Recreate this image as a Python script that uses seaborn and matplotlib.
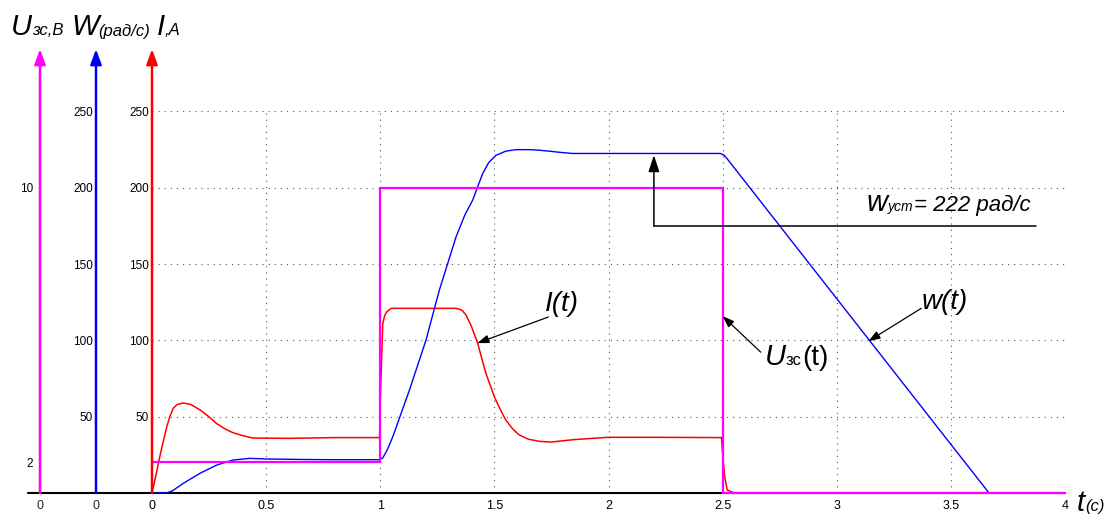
import numpy as np
import pandas as pd
import matplotlib
matplotlib.use("Agg")
import matplotlib.pyplot as plt
import seaborn as sns
from matplotlib.patches import FancyArrowPatch
from matplotlib.lines import Line2D

# ---------------- data ----------------
t_I = [0, 0.015, 0.03, 0.045, 0.064, 0.078, 0.093, 0.11, 0.137, 0.17, 0.21, 0.245,
       0.283, 0.32, 0.355, 0.4, 0.443, 0.6, 0.8, 0.997,
       1.0, 1.011, 1.02, 1.03, 1.048, 1.2, 1.33, 1.346, 1.36, 1.376, 1.4, 1.427,
       1.445, 1.463, 1.5, 1.525, 1.55, 1.58, 1.609, 1.65, 1.7, 1.75, 1.85, 2.0,
       2.2, 2.495, 2.502, 2.509, 2.52, 2.55, 4.0]
I_vals = [0, 10, 21, 31, 43, 50, 55.5, 58, 59, 58, 54.5, 50.5,
          45.5, 42, 39.5, 37.5, 36, 35.8, 36.3, 36.3,
          60, 111, 116.5, 119, 121, 121, 121, 120.5, 119.5, 116.6, 109, 98,
          88, 78.4, 63, 55, 47.8, 42, 38, 35.2, 33.8, 33.4, 35, 36.5,
          36.5, 36.3, 21.6, 10.7, 2, 0, 0]

t_w = [0, 0.064, 0.09, 0.137, 0.21, 0.283, 0.355, 0.428, 0.5, 0.647, 0.8, 0.997,
       1.011, 1.03, 1.055, 1.128, 1.2, 1.259, 1.332, 1.37, 1.405, 1.43, 1.449,
       1.475, 1.507, 1.55, 1.594, 1.652, 1.7, 1.74, 1.79, 1.842, 2.2, 2.49,
       2.505, 2.52, 3.667, 4.0]
w_vals = [0, 0, 1.5, 6.3, 12.9, 18.3, 21.6, 22.7, 22.3, 22, 21.8, 21.8,
          23, 28, 36.9, 67.5, 100, 133, 167.8, 182, 191.9, 202, 209.4,
          216.5, 221.3, 224, 225, 225, 224.6, 224, 223.2, 222.5, 222.5, 222.5,
          221.5, 219, 0, 0]

t_U = [0, 1, 1, 2.5, 2.5, 4]
U_vals = [20, 20, 200, 200, 0, 0]

x_ticks = [0, 0.5, 1, 1.5, 2, 2.5, 3, 3.5, 4]
x_tick_labels = ["0", "0.5", "1", "1.5", "2", "2.5", "3", "3.5", "4"]
y_ticks = [50, 100, 150, 200, 250]
y_tick_labels = ["50", "100", "150", "200", "250"]
u_tick_pos = [20, 200]
u_tick_labels = ["2", "10"]

w_ust = 222

# ---------------- style ----------------
sns.set_style("white")
FONT = ["Liberation Sans", "DejaVu Sans"]
plt.rcParams["font.family"] = FONT

W, H = 1110, 515
fig = plt.figure(figsize=(W / 100, H / 100), dpi=100)


def fx(px):
    return px / W


def fy(py):
    return 1 - py / H


X0, X1 = 152, 1065
YB, YT = 493, 111.5
ax = fig.add_axes([fx(X0), fy(YB), (X1 - X0) / W, (YB - YT) / H])
ax.set_facecolor("none")

RED, BLUE, MAG = "#ff0000", "#0000ff", "#ff00ff"

df_I = pd.DataFrame({"t": t_I, "v": I_vals})
df_w = pd.DataFrame({"t": t_w, "v": w_vals})
df_U = pd.DataFrame({"t": t_U, "v": U_vals})

sns.lineplot(data=df_I, x="t", y="v", ax=ax, sort=False, estimator=None,
             color=RED, lw=1.1, clip_on=False, zorder=3)
sns.lineplot(data=df_w, x="t", y="v", ax=ax, sort=False, estimator=None,
             color=BLUE, lw=1.0, clip_on=False, zorder=4)
sns.lineplot(data=df_U, x="t", y="v", ax=ax, sort=False, estimator=None,
             color=MAG, lw=1.6, clip_on=False, zorder=5)

ax.set_xlim(0, 4)
ax.set_ylim(0, 250)
ax.set_xlabel("")
ax.set_ylabel("")
ax.set_xticks(x_ticks)
ax.set_xticklabels(x_tick_labels)
ax.set_yticks(y_ticks)
ax.set_yticklabels(y_tick_labels)
ax.grid(True, color="#555555", lw=0.8, ls=(0, (1, 4.5)))
for s in ["top", "right", "left"]:
    ax.spines[s].set_visible(False)
ax.spines["bottom"].set_color("black")
ax.spines["bottom"].set_linewidth(1.5)
ax.tick_params(axis="both", direction="in", length=8, width=1, colors="black",
               labelsize=8.5)
ax.tick_params(axis="x", pad=5, labelsize=9)
ax.tick_params(axis="y", pad=2)

# secondary (decorative) axes for W and U
for xpix, ticks, labels, pad in [(96, y_ticks, y_tick_labels, 2),
                                 (40, u_tick_pos, u_tick_labels, 5)]:
    a = fig.add_axes([fx(xpix), fy(YB), 0.0005, (YB - YT) / H])
    a.set_facecolor("none")
    a.set_ylim(0, 250)
    a.set_xlim(0, 1)
    a.set_yticks(ticks)
    a.set_yticklabels(labels)
    a.set_xticks([0])
    a.set_xticklabels(["0"])
    for s in a.spines.values():
        s.set_visible(False)
    a.tick_params(axis="y", direction="in", length=8, width=1, colors="black",
                  labelsize=8.5, pad=pad)
    a.tick_params(axis="x", length=0, labelsize=9, pad=5)

# baseline to the left
fig.add_artist(Line2D([fx(28), fx(X0)], [fy(YB), fy(YB)], color="black", lw=1.5))

# vertical axis arrows
for xpix, c in [(40, MAG), (96, BLUE), (152, RED)]:
    fig.add_artist(FancyArrowPatch(
        posA=(fx(xpix), fy(YB)), posB=(fx(xpix), fy(49)),
        transform=fig.transFigure,
        arrowstyle="-|>,head_length=0.9,head_width=0.33",
        mutation_scale=10, color=c, lw=1.8, shrinkA=0, shrinkB=0, zorder=10))

# annotation arrows (data coordinates)
arrow_small = dict(arrowstyle="-|>,head_length=0.7,head_width=0.25",
                   mutation_scale=10, color="black", lw=0.9,
                   shrinkA=0, shrinkB=0)
ax.annotate("", xy=(1.425, 98.2), xytext=(1.736, 115.3), arrowprops=arrow_small,
            zorder=8)
ax.annotate("", xy=(2.5, 115.9), xytext=(2.667, 92.3), arrowprops=arrow_small,
            zorder=8)
ax.annotate("", xy=(3.139, 99.5), xytext=(3.37, 121), arrowprops=arrow_small,
            zorder=8)

# w_ust marker
ax.plot([2.199, 3.873], [174.9, 174.9], color="black", lw=1.1, zorder=8,
        clip_on=False)
ax.annotate("", xy=(2.199, w_ust - 0.6), xytext=(2.199, 174.9),
            arrowprops=dict(arrowstyle="-|>,head_length=1.0,head_width=0.33",
                            mutation_scale=10, color="black", lw=1.1,
                            shrinkA=0, shrinkB=0), zorder=8)

# ---------------- rich text helper ----------------
fig.canvas.draw()
renderer = fig.canvas.get_renderer()


def rich(x, y, pieces):
    cx = x
    for s, size, style, dy in pieces:
        t = fig.text(fx(cx), fy(y + dy), s, fontsize=size, style=style,
                     ha="left", va="baseline", family=FONT, color="black")
        bb = t.get_window_extent(renderer=renderer)
        cx += bb.width


rich(11, 35, [("U", 21, "italic", 0), ("зс,В", 12, "italic", 0)])
rich(71, 35, [("W", 21, "italic", 0), ("(рад/с)", 12, "italic", 1)])
rich(157, 35, [("I", 21, "italic", 0), (",A", 12, "italic", 0)])

rich(545, 311, [("I(t)", 20, "italic", 0)])
rich(765, 365, [("U", 21, "italic", 0), ("зс", 12, "normal", 0),
                ("(t)", 20, "normal", 0)])
rich(922, 309, [("w(t)", 20, "italic", 0)])
rich(867, 211, [("w", 21, "italic", 0), ("уст", 10, "italic", 0),
                ("= 222 рад/с", 16, "italic", 0)])
rich(1077, 511, [("t", 21, "italic", 0), ("(c)", 12, "italic", 0)])

fig.savefig("out.png", dpi=100)
